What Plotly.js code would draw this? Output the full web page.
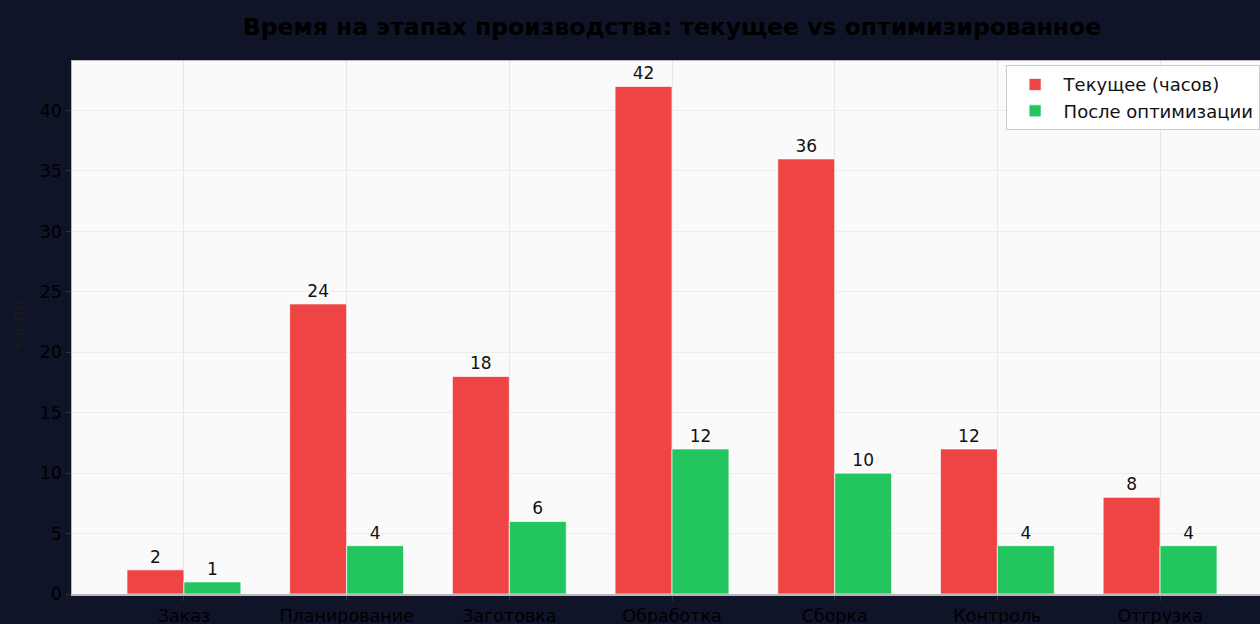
<!DOCTYPE html>
<html>
<head>
<meta charset="utf-8">
<script src="https://cdn.plot.ly/plotly-3.0.1.min.js"></script>
<style>
html,body{margin:0;padding:0;overflow:hidden;background:#0f1429;width:1260px;height:624px;}
#chart{width:1300px;height:660px;}
</style>
</head>
<body>
<div id="chart"></div>
<script>
const categories = ["Заказ", "Планирование", "Заготовка", "Обработка", "Сборка", "Контроль", "Отгрузка"];
const currentHours = [2, 24, 18, 42, 36, 12, 8];
const optimizedHours = [1, 4, 6, 12, 10, 4, 4];
const seriesNames = ["Текущее (часов)", "После оптимизации"];
const yTicks = [0, 5, 10, 15, 20, 25, 30, 35, 40];

const W = 1300, H = 660;
const font = "DejaVu Sans, Arial, sans-serif";

const common = {
  type: "bar",
  texttemplate: "%{y}",
  textposition: "outside",
  cliponaxis: false,
  textfont: {family: font, size: 17, color: "#111111"},
  hoverinfo: "x+y"
};

const traces = [
  Object.assign({}, common, {
    name: seriesNames[0], x: categories, y: currentHours,
    marker: {color: "#ef4444", line: {color: "rgba(255,255,255,0.7)", width: 1}}
  }),
  Object.assign({}, common, {
    name: seriesNames[1], x: categories, y: optimizedHours,
    marker: {color: "#22c55e", line: {color: "rgba(255,255,255,0.7)", width: 1}}
  })
];

const layout = {
  width: W, height: H,
  paper_bgcolor: "#0f1429",
  plot_bgcolor: "#fafafa",
  margin: {l: 72, r: 28, t: 61, b: 66, pad: 0},
  barmode: "group",
  bargap: 0.3,
  bargroupgap: 0,
  font: {family: font, size: 17, color: "#000000"},
  title: {
    text: "<b>Время на этапах производства: текущее vs оптимизированное</b>",
    font: {family: font, size: 23.5, color: "#000000"},
    x: 0.5, xref: "paper", xanchor: "center",
    y: 1 - 27 / H, yref: "container", yanchor: "middle"
  },
  xaxis: {
    type: "category",
    range: [-0.688, 6.688],
    showgrid: true, gridcolor: "#e6e6e6", gridwidth: 1,
    showline: true, linecolor: "#b8b8b8", linewidth: 1.5, mirror: true,
    ticks: "outside", ticklen: 5, tickwidth: 1, tickcolor: "#333333",
    tickfont: {family: font, size: 17.5, color: "#000000"},
    zeroline: false, fixedrange: true
  },
  yaxis: {
    range: [0, 44.1],
    tickvals: yTicks,
    ticktext: yTicks.map(String),
    showgrid: true, gridcolor: "#ececec", gridwidth: 1,
    showline: true, linecolor: "#b8b8b8", linewidth: 1.5, mirror: true,
    ticks: "outside", ticklen: 5, tickwidth: 1, tickcolor: "#333333",
    tickfont: {family: font, size: 17.5, color: "#000000"},
    zeroline: false, fixedrange: true,
    title: {text: "Часов", font: {family: font, size: 18, color: "#1a1a1a"}, standoff: 10}
  },
  legend: {
    x: 0.778, y: 0.992, xanchor: "left", yanchor: "top",
    bgcolor: "rgba(255,255,255,0.9)",
    bordercolor: "#cccccc", borderwidth: 1,
    font: {family: font, size: 18, color: "#111111"},
    itemwidth: 47,
    tracegroupgap: 0
  },
  showlegend: true
};

Plotly.newPlot("chart", traces, layout, {displayModeBar: false, staticPlot: true});
</script>
</body>
</html>
